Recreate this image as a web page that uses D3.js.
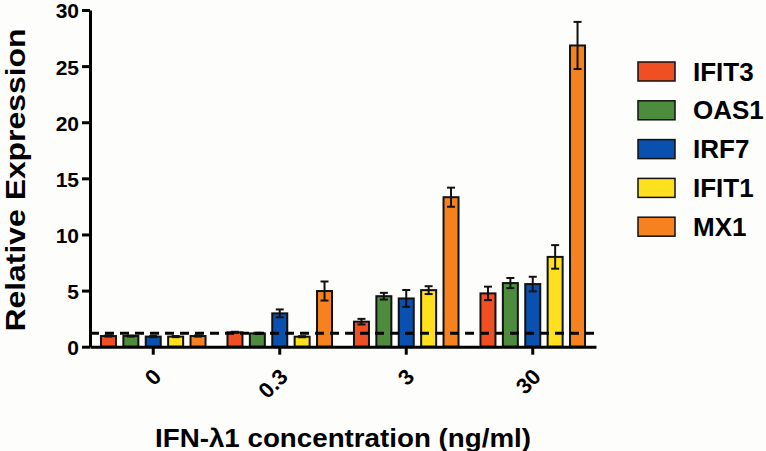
<!DOCTYPE html>
<html><head><meta charset="utf-8">
<script src="https://cdn.jsdelivr.net/npm/d3@7"></script>
<style>
html,body{margin:0;padding:0;background:#fdfdfc;}
svg{display:block;}
text{font-family:"Liberation Sans",Arial,sans-serif;font-weight:bold;fill:#000;}
</style></head>
<body>
<svg id="chart" width="766" height="451"></svg>
<script>
const groups = ["0", "0.3", "3", "30"];
const genes = ["IFIT3", "OAS1", "IRF7", "IFIT1", "MX1"];
const colors = ["#F04E23", "#4C8C3C", "#0A50AF", "#FFE01E", "#F5821F"];
// values per gene across groups
const IFIT3 = [0.95, 1.28, 2.23, 4.75];
const OAS1  = [0.95, 1.19, 4.5, 5.67];
const IRF7  = [0.9, 2.97, 4.3, 5.58];
const IFIT1 = [0.9, 0.89, 5.04, 8.0];
const MX1   = [0.95, 4.96, 13.32, 26.84];
// error (SEM) per gene across groups
const IFIT3_err = [0.05, 0.05, 0.25, 0.6];
const OAS1_err  = [0.05, 0.05, 0.3, 0.45];
const IRF7_err  = [0.05, 0.35, 0.75, 0.65];
const IFIT1_err = [0.05, 0.05, 0.35, 1.05];
const MX1_err   = [0.05, 0.85, 0.85, 2.1];
const yTicks = [0, 5, 10, 15, 20, 25, 30];
const baseline = 1.2;

const values = [IFIT3, OAS1, IRF7, IFIT1, MX1];
const errs = [IFIT3_err, OAS1_err, IRF7_err, IFIT1_err, MX1_err];
const data = [];
groups.forEach((g, gi) => genes.forEach((k, ki) => data.push({g, k, ki, v: values[ki][gi], e: errs[ki][gi]})));

const svg = d3.select("#chart");
const x0 = d3.scaleBand().domain(groups).range([90, 596]).padding(0);
const x1 = d3.scaleBand().domain(genes).range([0, x0.bandwidth()]).paddingInner(0.33).paddingOuter(0.49);
const y = d3.scaleLinear().domain([0, 30]).range([346.7, 10]);
const color = d3.scaleOrdinal().domain(genes).range(colors);

// bars
const bars = svg.append("g");
bars.selectAll("rect").data(data).join("rect")
  .attr("x", d => x0(d.g) + x1(d.k))
  .attr("y", d => y(d.v))
  .attr("width", x1.bandwidth())
  .attr("height", d => y(0) - y(d.v))
  .attr("fill", d => color(d.k))
  .attr("stroke", "#111").attr("stroke-width", 2);

// error bars
const eb = svg.append("g").attr("stroke", "#111").attr("stroke-width", 2);
data.forEach(d => {
  const cx = x0(d.g) + x1(d.k) + x1.bandwidth() / 2;
  eb.append("line").attr("x1", cx).attr("x2", cx).attr("y1", y(d.v + d.e)).attr("y2", y(d.v - d.e));
  [d.v + d.e, d.v - d.e].forEach(val => {
    eb.append("line").attr("x1", cx - 4).attr("x2", cx + 4).attr("y1", y(val)).attr("y2", y(val));
  });
});

// dashed baseline
svg.append("line")
  .attr("x1", x0.range()[0]).attr("x2", x0.range()[1] + 1)
  .attr("y1", y(baseline)).attr("y2", y(baseline))
  .attr("stroke", "#000").attr("stroke-width", 3).attr("stroke-dasharray", "9,6");

// axes
const yAxis = svg.append("g").attr("transform", "translate(90,0)")
  .call(d3.axisLeft(y).tickValues(yTicks).tickSize(8).tickSizeOuter(0).tickPadding(3));
yAxis.select(".domain").attr("stroke", "#000").attr("stroke-width", 3);
yAxis.selectAll(".tick line").attr("stroke", "#000").attr("stroke-width", 3);
yAxis.selectAll(".tick text").attr("font-size", 21).attr("font-family", "Liberation Sans, Arial, sans-serif").attr("font-weight", "bold").attr("fill", "#000").attr("dy", "0.38em");

const xAxis = svg.append("g").attr("transform", `translate(0,${y(0)})`)
  .call(d3.axisBottom(x0).tickSize(8).tickSizeOuter(0));
xAxis.select(".domain").attr("stroke", "#000").attr("stroke-width", 3);
xAxis.selectAll(".tick line").attr("stroke", "#000").attr("stroke-width", 3);
xAxis.selectAll(".tick text")
  .attr("font-size", 22).attr("font-family", "Liberation Sans, Arial, sans-serif").attr("font-weight", "bold").attr("fill", "#000")
  .attr("text-anchor", "end").attr("dy", "0.35em")
  .attr("transform", "translate(4,26) rotate(-45)")
  .attr("y", 0).attr("x", 0);

// axis titles
svg.append("text").attr("transform", "translate(25,180) rotate(-90)")
  .attr("text-anchor", "middle").attr("font-size", 28)
  .attr("textLength", 303).attr("lengthAdjust", "spacingAndGlyphs").text("Relative Expression");
svg.append("text").attr("x", 343).attr("y", 447)
  .attr("text-anchor", "middle").attr("font-size", 25)
  .attr("textLength", 376).attr("lengthAdjust", "spacingAndGlyphs").text("IFN-λ1 concentration (ng/ml)");

// legend
const leg = svg.append("g");
genes.forEach((k, i) => {
  const cy = 71.5 + i * 38.8;
  leg.append("rect").attr("x", 638).attr("y", cy - 9.5).attr("width", 37).attr("height", 19)
    .attr("fill", color(k)).attr("stroke", "#111").attr("stroke-width", 1.5);
  leg.append("text").attr("x", 693).attr("y", cy + 9).attr("font-size", 26).text(k);
});
</script>
</body></html>
